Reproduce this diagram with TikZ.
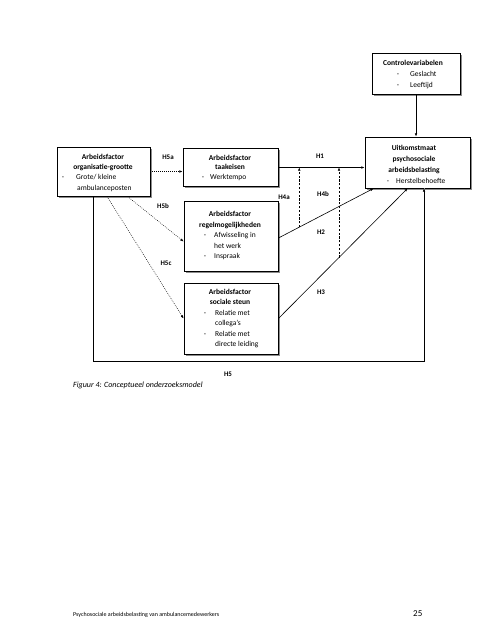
\documentclass[tikz,border=0pt]{standalone}
\usepackage{fontspec}
\setmainfont{Carlito}
\usetikzlibrary{arrows.meta,shadows,calc}
\begin{document}
\begin{tikzpicture}[x=1pt,y=-1pt,
  box/.style={draw=black, line width=0.9pt, fill=white, rectangle, inner sep=0pt,
    drop shadow={shadow xshift=1.6pt, shadow yshift=-1.6pt, fill=black!45, opacity=1}},
  ttl/.style={font=\fontsize{7.5}{8}\selectfont\bfseries, inner sep=0pt, anchor=mid},
  itm/.style={font=\fontsize{7.5}{8}\selectfont, inner sep=0pt, anchor=mid west},
  dsh/.style={font=\fontsize{7.5}{8}\selectfont, inner sep=0pt, anchor=mid},
  hlbl/.style={font=\fontsize{7}{8}\selectfont\bfseries, inner sep=0pt, anchor=mid},
  tip/.style={-{Latex[length=3.2pt,width=2.6pt]}},
  solidarrow/.style={tip, line width=0.6pt, draw=black},
  dotarrow/.style={tip, line width=0.5pt, draw=black, dash pattern=on 0.8pt off 1.2pt},
  dasharrow/.style={tip, line width=0.5pt, draw=black, dash pattern=on 2.2pt off 1.6pt}]
\useasboundingbox (0,0) rectangle (495,640);
\fill[white] (0,0) rectangle (495,640);

% boxes
\node[box, minimum width=88pt, minimum height=41pt] (ctrl) at (416,74) {};
\node[box, minimum width=105pt, minimum height=51pt] (out) at (417.5,162.5) {};
\node[box, minimum width=93pt, minimum height=49pt] (org) at (103.5,171.5) {};
\node[box, minimum width=95pt, minimum height=38pt] (task) at (230.5,167.5) {};
\node[box, minimum width=94pt, minimum height=70pt] (regel) at (231,236.5) {};
\node[box, minimum width=94pt, minimum height=71pt] (steun) at (231,318.5) {};

% texts: control variables
\node[ttl] (c1) at (413,63) {Controlevariabelen};
\node[dsh] (c2d) at (398,74.5) {-};
\node[itm] (c2) at (410,74.5) {Geslacht};
\node[dsh] (c3d) at (398,85.5) {-};
\node[itm] (c3) at (410,85.5) {Leeftijd};

% outcome
\node[ttl] (o1) at (414,148) {Uitkomstmaat};
\node[ttl] (o2) at (414,159) {psychosociale};
\node[ttl] (o3) at (414,170) {arbeidsbelasting};
\node[dsh] (o4d) at (388,181) {-};
\node[itm] (o4) at (396,181) {Herstelbehoefte};

% organisation size
\node[ttl] (g1) at (103,157) {Arbeidsfactor};
\node[ttl] (g2) at (103,167) {organisatie-grootte};
\node[dsh] (g3d) at (63,177) {-};
\node[itm] (g3) at (76,177) {Grote/ kleine};
\node[itm] (g4) at (77,188) {ambulanceposten};

% task demands
\node[ttl] (k1) at (230,158) {Arbeidsfactor};
\node[ttl] (k2) at (230,167) {taakeisen};
\node[dsh] (k3d) at (203,177) {-};
\node[itm] (k3) at (210,177) {Werktempo};

% control options
\node[ttl] (r1) at (230,214.5) {Arbeidsfactor};
\node[ttl] (r2) at (230,225) {regelmogelijkheden};
\node[dsh] (r3d) at (205,235.5) {-};
\node[itm] (r3) at (214,235.5) {Afwisseling in};
\node[itm] (r4) at (214,246) {het werk};
\node[dsh] (r5d) at (205,256.5) {-};
\node[itm] (r5) at (214,256.5) {Inspraak};

% social support
\node[ttl] (s1) at (230,292.5) {Arbeidsfactor};
\node[ttl] (s2) at (230,302.5) {sociale steun};
\node[dsh] (s3d) at (205,313) {-};
\node[itm] (s3) at (215,313) {Relatie met};
\node[itm] (s4) at (215,323.5) {collega's};
\node[dsh] (s5d) at (205,334) {-};
\node[itm] (s5) at (215,334) {Relatie met};
\node[itm] (s6) at (215,344.5) {directe leiding};

% coordinates
\coordinate (h2s) at ([yshift=-1.5pt]regel.east);
\coordinate (h2e) at ([xshift=9pt]out.south west);
\coordinate (h3s) at (steun.east);
\coordinate (h3e) at ([xshift=43pt]out.south west);
\coordinate (h4aS) at ($(h2s)!0.219!(h2e)$);
\coordinate (h4bS) at ($(h3s)!0.469!(h3e)$);
\coordinate (h5s) at ([xshift=-10.5pt]org.south);
\coordinate (h5c) at (424,361);

% connectors
\draw[solidarrow] (ctrl.south) -- (ctrl.south |- out.north);
\draw[dotarrow] (org.east) -- (task.west |- org.east);
\draw[dotarrow] ([xshift=24pt]org.south) -- ([yshift=-5pt]regel.west);
\draw[dotarrow] ([xshift=3.5pt]org.south) -- (steun.west);
\draw[solidarrow] (task.east) -- (out.west |- task.east);
\draw[solidarrow] (h2s) -- (h2e);
\draw[solidarrow] (h3s) -- (h3e);
\draw[dasharrow] (h4aS) -- (h4aS |- task.east);
\draw[dasharrow] (h4bS) -- (h4bS |- task.east);
\draw[line width=1.2pt, black!45] ([xshift=0.8pt,yshift=-0.8pt]h5s) |- ([xshift=0.8pt,yshift=-0.8pt]h5c) -- ([xshift=0.8pt]h5c |- out.south);
\draw[solidarrow] (h5s) |- (h5c) -- (h5c |- out.south);

% labels
\node[hlbl] (lH5a) at (168,157) {H5a};
\node[hlbl] (lH5b) at (163,206) {H5b};
\node[hlbl] (lH5c) at (166,263) {H5c};
\node[hlbl] (lH1) at (320,156) {H1};
\node[hlbl] (lH4a) at (284,197) {H4a};
\node[hlbl] (lH4b) at (323,194) {H4b};
\node[hlbl] (lH2) at (321,232) {H2};
\node[hlbl] (lH3) at (321,292) {H3};
\node[hlbl] (lH5) at (228,374) {H5};

% caption and footer
\node[font=\fontsize{8}{9}\selectfont\itshape, inner sep=0pt, anchor=mid west] (cap) at (73,385) {Figuur 4: Conceptueel onderzoeksmodel};
\node[font=\fontsize{6}{7}\selectfont, inner sep=0pt, anchor=mid west] (foot) at (73,614) {Psychosociale arbeidsbelasting van ambulancemedewerkers};
\node[font=\fontsize{9}{10}\selectfont, inner sep=0pt, anchor=mid west] (page) at (413,614) {25};
\end{tikzpicture}
\end{document}
